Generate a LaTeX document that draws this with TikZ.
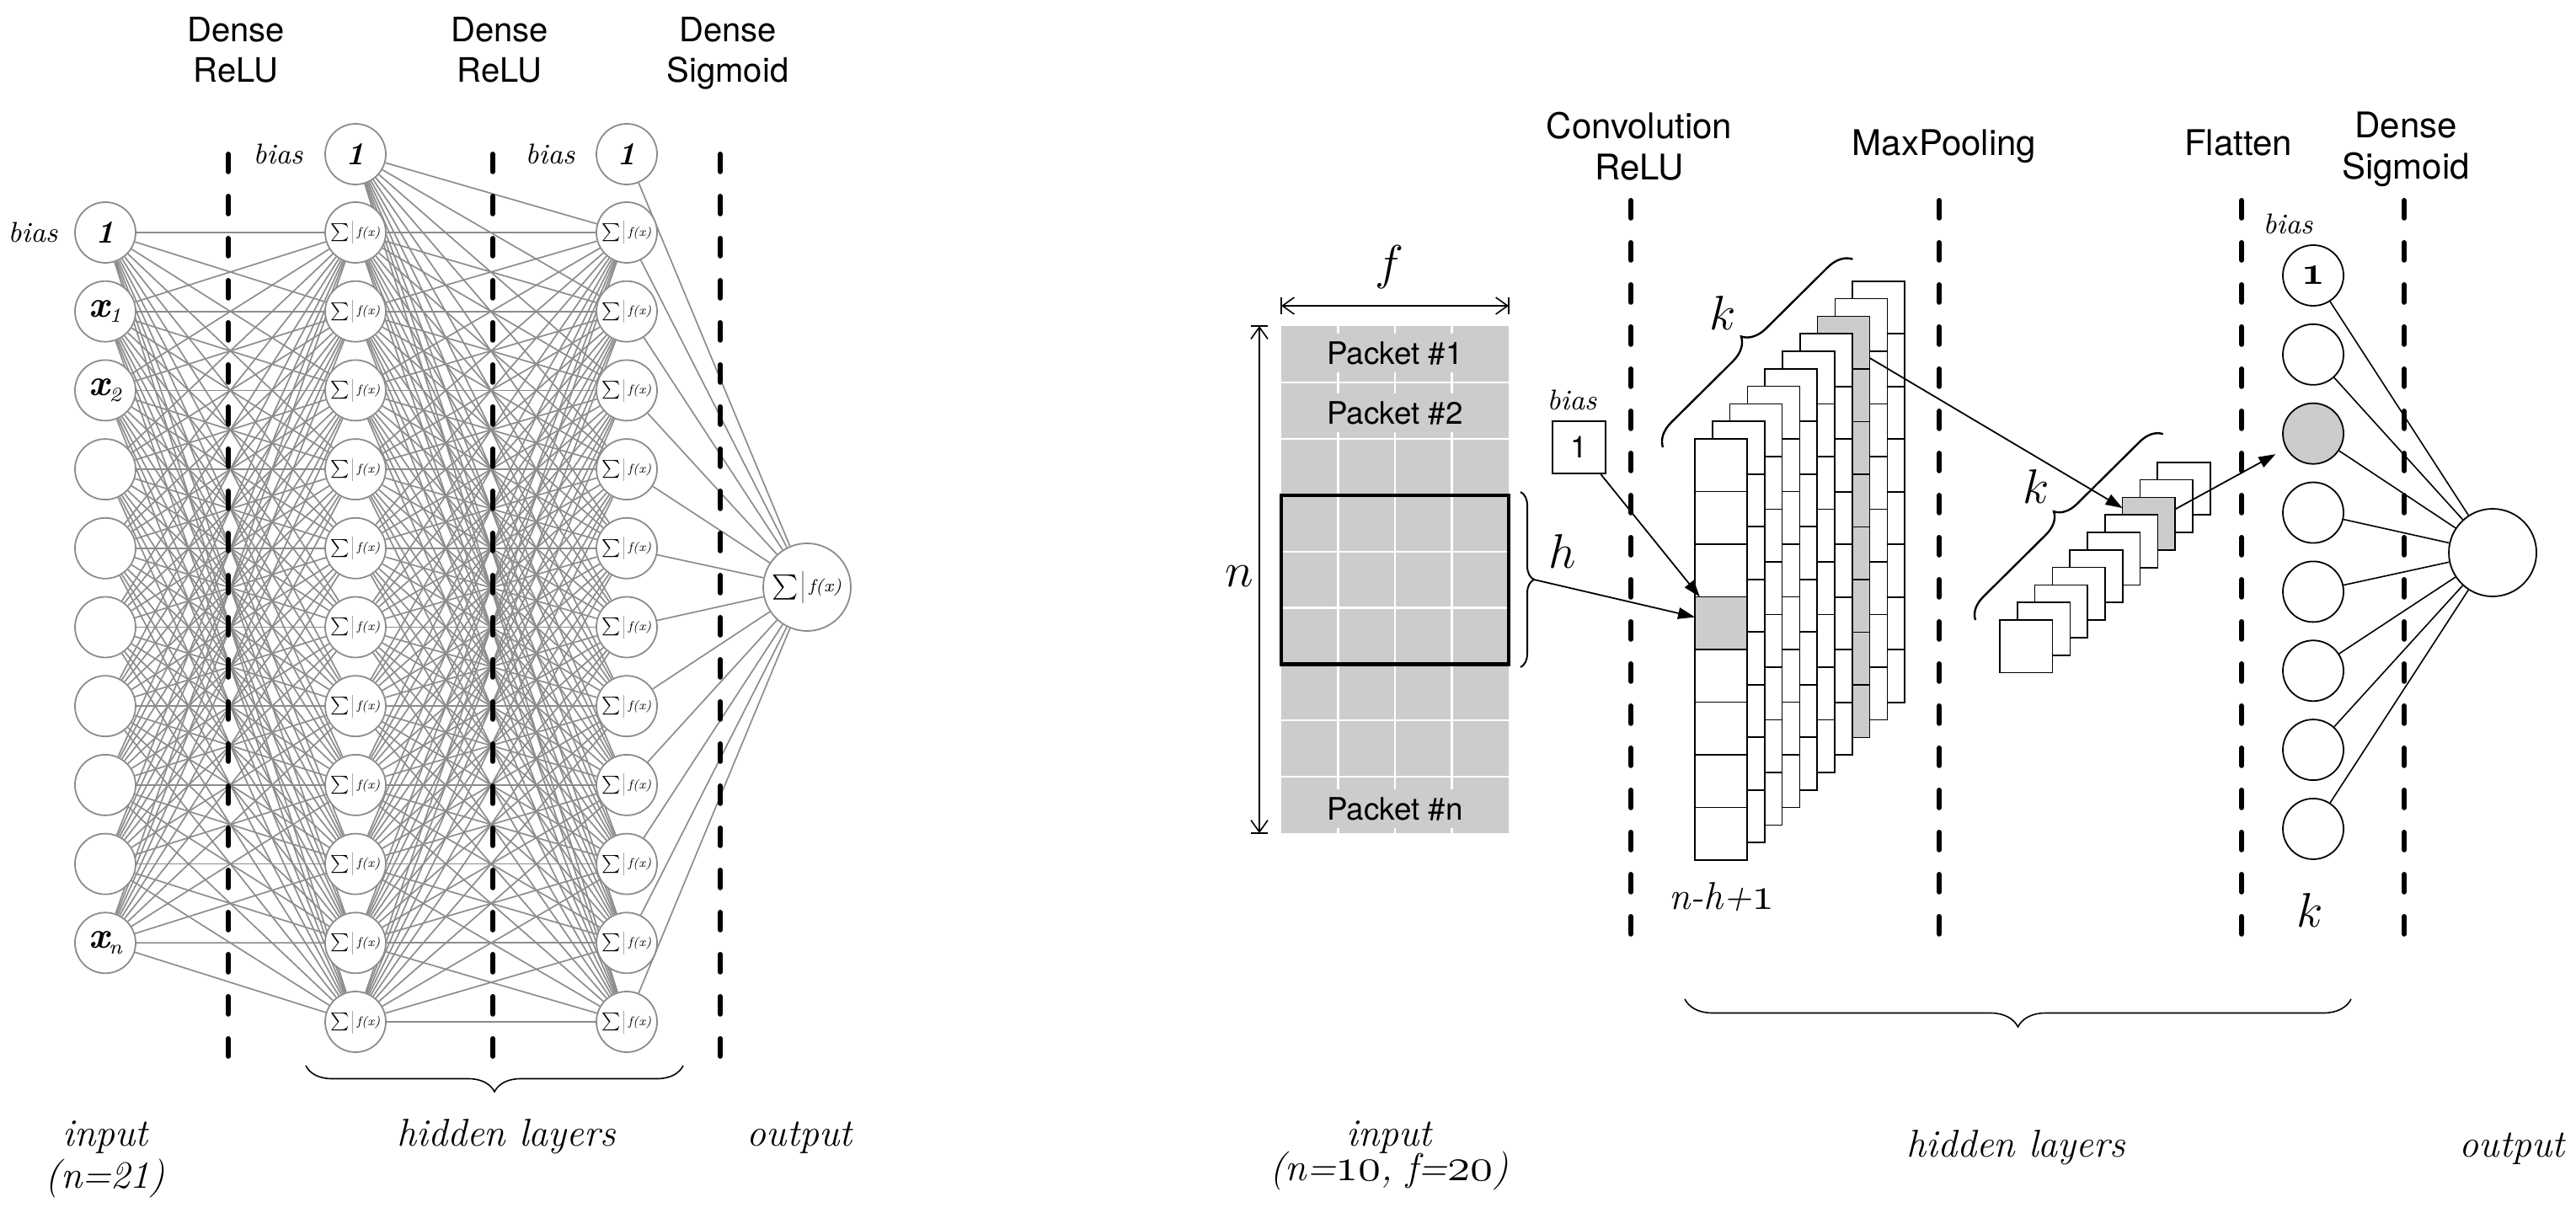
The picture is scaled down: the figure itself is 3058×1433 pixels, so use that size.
\documentclass[tikz,border=0pt]{standalone}
\usepackage{fontspec}
\usepackage{graphicx}
\usetikzlibrary{arrows.meta,decorations.pathreplacing}
\newfontfamily\hv{TeX Gyre Heros}
\definecolor{edgegray}{HTML}{8C8C8C}
\definecolor{ringgray}{HTML}{8C8C8C}
\definecolor{bargray}{HTML}{A8A8A8}
\definecolor{cellgray}{HTML}{CCCCCC}
\pgfdeclarelayer{bg}
\pgfsetlayers{bg,main}
\newcommand\Sfx{\mbox{\scalebox{0.53}{$\textstyle\sum$}\kern0.8pt{\color{bargray}\vrule width 0.3pt height 4.7pt depth 2.05pt}\kern1.1pt\raisebox{0.3pt}{\fontsize{3.7}{4}\selectfont\itshape f(x)}}}
\newcommand\xsub[1]{{\fontsize{11}{11}\selectfont\bfseries\itshape x}\kern-0.2pt\raisebox{-1.6pt}{\fontsize{6}{6}\selectfont\itshape #1}}
\newcommand\onebf{{\fontsize{9.5}{10}\selectfont\bfseries\itshape 1}}
\newcommand\oneos{\scalebox{1.2}{\boldmath$\mathnormal{1}$}}
\newcommand\osn[1]{\scalebox{1.15}{$\mathnormal{#1}$}}
\tikzset{
  incirc/.style={circle, draw=ringgray, line width=0.45pt, fill=white, minimum size=18pt, inner sep=0pt},
  gedge/.style={draw=edgegray, line width=0.42pt},
  dashsep/.style={line width=1.5pt, line cap=round, dash pattern=on 5.2pt off 7.3pt},
  headL/.style={font=\hv\fontsize{10}{12}\selectfont, anchor=base, inner sep=0pt},
  headR/.style={font=\hv\fontsize{10.5}{12}\selectfont, anchor=base, inner sep=0pt},
  lab/.style={font=\fontsize{11.5}{13}\selectfont\itshape, anchor=base, inner sep=0pt},
  biaslab/.style={font=\fontsize{8.5}{10}\selectfont\itshape, anchor=base, inner sep=0pt},
  sym/.style={font=\fontsize{12}{14}\selectfont, anchor=base, inner sep=0pt},
  cell/.style={draw=black, line width=0.42pt, fill=white, minimum width=15.5pt, minimum height=15.625pt, inner sep=0pt, outer sep=0pt, anchor=north west},
  packet/.style={fill=cellgray, font=\hv\fontsize{9.2}{11}\selectfont, inner xsep=2pt, inner ysep=0pt, minimum height=11.5pt},
  dcirc/.style={circle, draw=black, line width=0.45pt, fill=white, minimum size=18pt, inner sep=0pt},
  bline/.style={draw=black, line width=0.4pt},
  gridw/.style={draw=white, line width=0.55pt},
  arr/.style={draw=black, line width=0.45pt, -{Triangle[length=5pt,width=3.4pt]}},
  dimline/.style={draw=black, line width=0.4pt, {Straight Barb[length=3.5pt,width=5pt]}-{Straight Barb[length=3.5pt,width=5pt]}},
  bracedec/.style={decorate, decoration={brace, amplitude=#1}}
}
\begin{document}
\begin{tikzpicture}[x=0.25pt,y=-0.25pt]
\useasboundingbox (0,0) rectangle (3058,1433);

% ================= LEFT NETWORK =================
\node[headL] (hA1) at (280,50) {Dense};
\node[headL] (hA2) at (280,98) {ReLU};
\node[headL] (hB1) at (593,50) {Dense};
\node[headL] (hB2) at (593,98) {ReLU};
\node[headL] (hC1) at (864,50) {Dense};
\node[headL] (hC2) at (864,98) {Sigmoid};

% input layer
\node[incirc] (in0) at (125,276) {\onebf};
\node[incirc] (in1) at (125,369.7) {\xsub{1}};
\node[incirc] (in2) at (125,463.4) {\xsub{2}};
\foreach \i in {3,...,8} \node[incirc] (in\i) at (125,{276+93.7*\i}) {};
\node[incirc] (in9) at (125,1119.3) {\xsub{n}};

% hidden layers
\node[incirc] (hb1) at (422,183) {\onebf};
\node[incirc] (hb2) at (744,183) {\onebf};
\foreach \j in {0,...,10} {
  \node[incirc] (ha\j) at (422,{276+93.7*\j}) {\Sfx};
  \node[incirc] (hc\j) at (744,{276+93.7*\j}) {\Sfx};
}
\node[incirc, minimum size=26pt] (out) at (958,697) {\scalebox{1.4}{\Sfx}};

\node[biaslab] (bl0) at (39,288) {bias};
\node[biaslab] (bl1) at (330,195) {bias};
\node[biaslab] (bl2) at (653,195) {bias};

\begin{pgfonlayer}{bg}
  \foreach \i in {0,...,9} \foreach \j in {0,...,10} \draw[gedge] (in\i) -- (ha\j);
  \foreach \j in {0,...,10} {
    \draw[gedge] (hb1) -- (hc\j);
    \foreach \i in {0,...,10} \draw[gedge] (ha\i) -- (hc\j);
    \draw[gedge] (hc\j) -- (out);
  }
  \draw[gedge] (hb2) -- (out);
\end{pgfonlayer}

% separators
\coordinate (la1) at (271,183);  \coordinate (lb1) at (271,1262);
\coordinate (la2) at (585,183);  \coordinate (lb2) at (585,1262);
\coordinate (la3) at (855,183);  \coordinate (lb3) at (855,1262);
\draw[dashsep] (la1) -- (lb1);
\draw[dashsep] (la2) -- (lb2);
\draw[dashsep] (la3) -- (lb3);

\draw[bracedec=7.75pt, line width=0.4pt] (811,1265) -- (363,1265);

\node[lab] (tin) at (125,1360) {input};
\node[lab] (tinn) at (125,1410) {(n=21)};
\node[lab] (thid) at (601,1360) {hidden layers};
\node[lab] (tout) at (949,1360) {output};

% ================= RIGHT NETWORK =================
\node[headR] (rA1) at (1946,165) {Convolution};
\node[headR] (rA2) at (1946,214) {ReLU};
\node[headR] (rB1) at (2308,185) {MaxPooling};
\node[headR] (rC1) at (2657,185) {Flatten};
\node[headR] (rD1) at (2856,164) {Dense};
\node[headR] (rD2) at (2856,213) {Sigmoid};

% input matrix
\node[fill=cellgray, minimum width=67.5pt, minimum height=150.5pt, inner sep=0pt, outer sep=0pt, anchor=north west] (mat) at (1521,387) {};
\foreach \k in {1,2,3} \draw[gridw] ({1521+67.5*\k},387) -- ({1521+67.5*\k},989);
\foreach \k in {1,...,8} \draw[gridw] (1521,{387+66.9*\k}) -- (1791,{387+66.9*\k});
\node[packet] (pk1) at (1656,419) {Packet \#1};
\node[packet] (pk2) at (1656,490) {Packet \#2};
\node[packet] (pkn) at (1656,960) {Packet \#n};
\node[draw=black, line width=1.1pt, minimum width=67.5pt, minimum height=50.175pt, inner sep=0pt, outer sep=0pt, anchor=north west] (win) at (1521,587.7) {};

% dimensions
\coordinate (nA) at (1495,387); \coordinate (nB) at (1495,989);
\draw[dimline] (nA) -- (nB);
\draw[bline] (1485,387) -- (1505,387);
\draw[bline] (1485,989) -- (1505,989);
\coordinate (fA) at (1521,363); \coordinate (fB) at (1791,363);
\draw[dimline] (fA) -- (fB);
\draw[bline] (1521,353) -- (1521,373);
\draw[bline] (1791,353) -- (1791,373);
\node[sym] (tn) at (1471,696) {\scalebox{1.2}{$n$}};
\node[sym] (tf) at (1649,332) {\scalebox{1.2}{$f$}};

% h brace
\draw[bracedec=4pt, line width=0.5pt] (1805,584) -- (1805,792);
\coordinate (htip) at (1821,688);
\node[sym] (th) at (1855,674) {\scalebox{1.2}{$h$}};

% bias box
\node[biaslab] (bl3) at (1866,486) {bias};
\node[draw=black, line width=0.45pt, minimum size=15.6pt, inner sep=0pt, font=\hv\fontsize{9}{10}\selectfont] (bbox) at (1874.5,531) {1};

% convolution stack
\foreach \ci in {9,...,0} {
  \ifnum\ci=7 \def\cfill{cellgray}\else\def\cfill{white}\fi
  \foreach \ri in {0,...,7} {
    \def\ff{\cfill}
    \ifnum\ci=0 \ifnum\ri=3 \def\ff{cellgray}\fi\fi
    \node[cell, fill=\ff] (cv\ci-\ri) at ({2012+20.8*\ci},{521-20.8*\ci+62.5*\ri}) {};
  }
}
\draw[bracedec=7pt, line width=0.6pt] (1974,531) -- (2200,307);
\node[sym] (tk1) at (2045,392) {\scalebox{1.2}{$k$}};
\node[lab] (tnh) at (2044,1079) {n-h+\osn{1}};

% maxpooling stack
\foreach \si in {9,...,0} {
  \ifnum\si=7 \def\sfill{cellgray}\else\def\sfill{white}\fi
  \node[cell, fill=\sfill, minimum width=15.625pt] (mp\si) at ({2374+20.8*\si},{736-20.8*\si}) {};
}
\draw[bracedec=6.5pt, line width=0.6pt] (2345,736) -- (2568,515);
\node[sym] (tk2) at (2417,597) {\scalebox{1.2}{$k$}};

% dense layer
\node[biaslab] (bl4) at (2716,278) {bias};
\node[dcirc] (dn0) at (2746,327) {\oneos};
\node[dcirc] (dn1) at (2746,420.85) {};
\node[dcirc, fill=cellgray] (dn2) at (2746,514.7) {};
\foreach \k in {3,...,7} \node[dcirc] (dn\k) at (2746,{327+93.85*\k}) {};
\node[dcirc, minimum size=26pt] (dout) at (2959,656) {};
\foreach \k in {0,...,7} \draw[bline] (dn\k) -- (dout);
\node[sym] (tk3) at (2742,1100) {\scalebox{1.2}{$k$}};

% arrows
\draw[arr] (htip) -- (cv0-3);
\draw[arr] (bbox) -- (cv0-3);
\draw[arr] (cv7-0) -- (mp7);
\draw[arr, shorten >=3.5pt] (mp7) -- (dn2);

% separators
\coordinate (ra1) at (1936,238); \coordinate (rb1) at (1936,1116);
\coordinate (ra2) at (2302,238); \coordinate (rb2) at (2302,1116);
\coordinate (ra3) at (2661,238); \coordinate (rb3) at (2661,1116);
\coordinate (ra4) at (2854,238); \coordinate (rb4) at (2854,1116);
\draw[dashsep] (ra1) -- (rb1);
\draw[dashsep] (ra2) -- (rb2);
\draw[dashsep] (ra3) -- (rb3);
\draw[dashsep] (ra4) -- (rb4);

\draw[bracedec=8.25pt, line width=0.4pt] (2791,1186) -- (2000,1186);

\node[lab] (rin) at (1649,1360) {input};
\node[lab] (rinn) at (1649,1401) {(n=\osn{10}, f=\osn{20})};
\node[lab] (rhid) at (2393,1373) {hidden layers};
\node[lab] (rout) at (2982,1373) {output};
\end{tikzpicture}
\end{document}
